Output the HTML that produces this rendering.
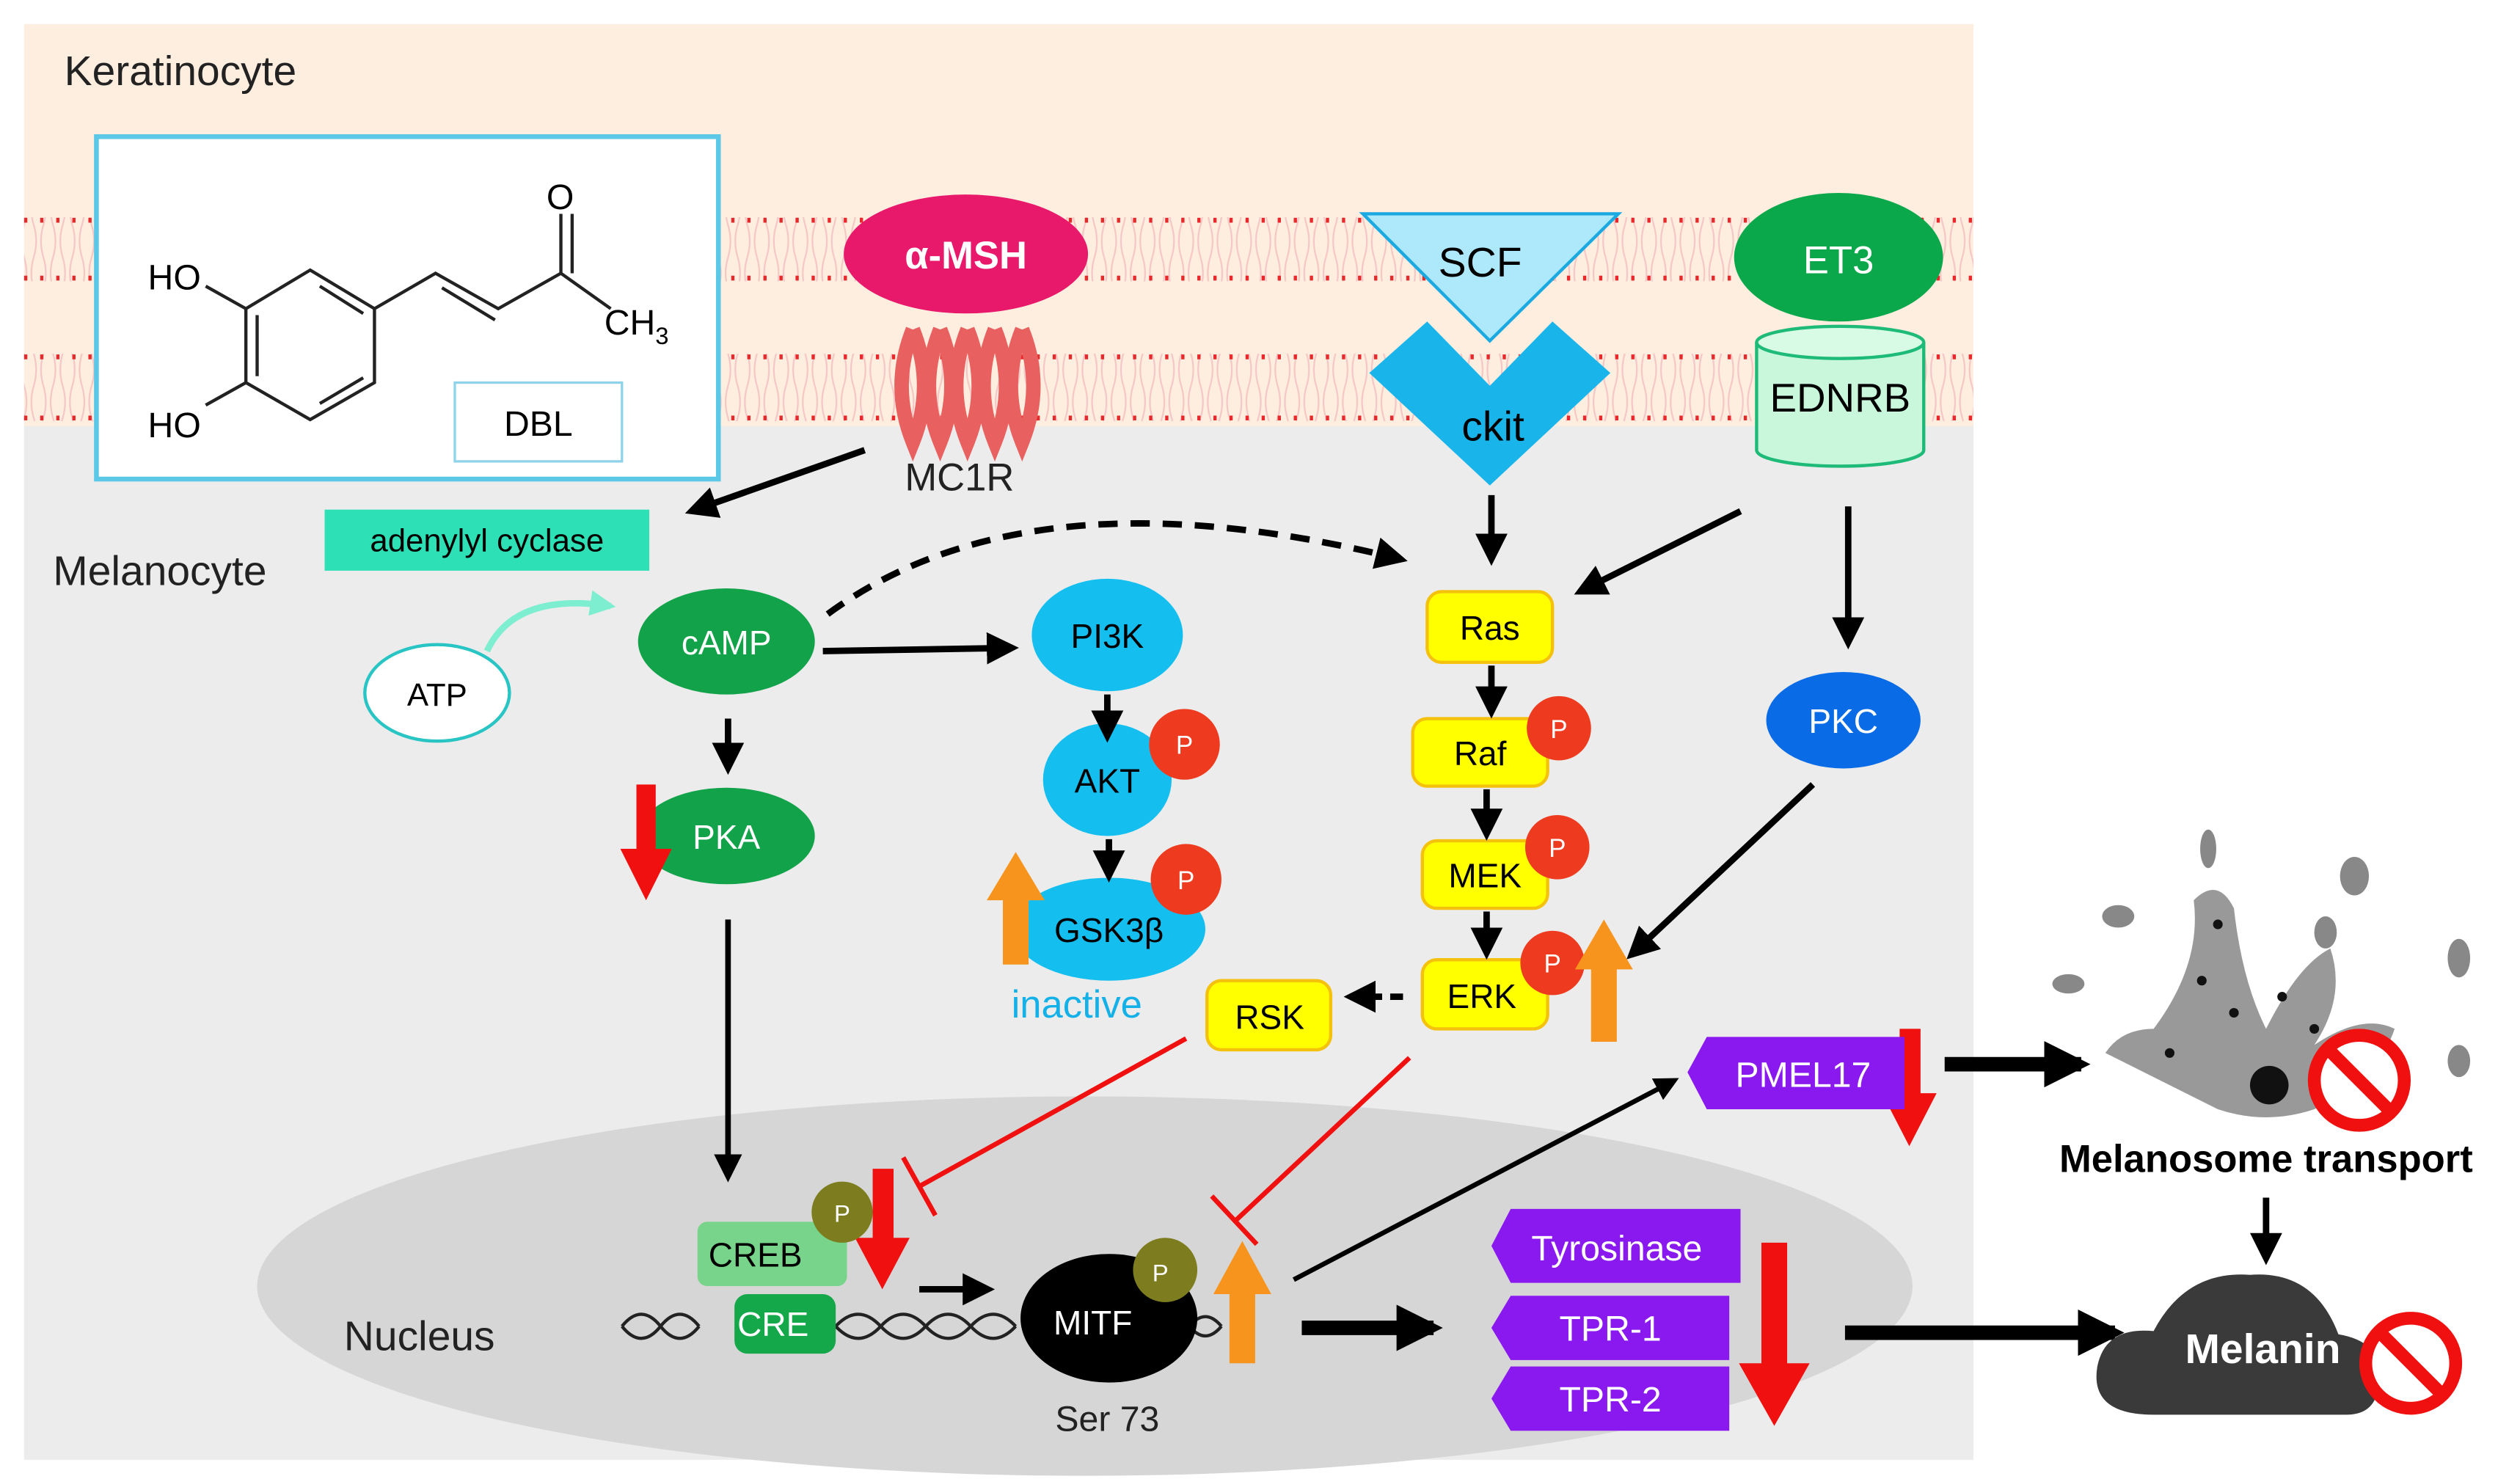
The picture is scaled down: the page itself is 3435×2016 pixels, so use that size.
<!DOCTYPE html>
<html><head><meta charset="utf-8"><style>html,body{margin:0;padding:0;background:#fff}svg{display:block}text{font-family:"Liberation Sans",sans-serif}</style></head><body>
<svg width="3435" height="2016" viewBox="0 0 1568 920" preserveAspectRatio="none" xmlns="http://www.w3.org/2000/svg">
<defs>
<marker id="ah" viewBox="0 0 10 10" refX="8" refY="5" markerWidth="5" markerHeight="5" orient="auto"><path d="M0,0L10,5L0,10z" fill="#000"/></marker>
<marker id="ahb" viewBox="0 0 10 10" refX="8" refY="5" markerWidth="3.2" markerHeight="3.2" orient="auto"><path d="M0,0L10,5L0,10z" fill="#000"/></marker>
<marker id="aht" viewBox="0 0 10 10" refX="8" refY="5" markerWidth="4" markerHeight="4" orient="auto"><path d="M0,0L10,5L0,10z" fill="#7eeed0"/></marker>
<pattern id="lip" width="12" height="40" patternUnits="userSpaceOnUse"><path d="M3,0 q3,10 0,20 q-3,10 0,20 M9,0 q-3,10 0,20 q3,10 0,20" stroke="#f5c6c6" fill="none" stroke-width="1"/></pattern>
</defs>
<rect x="15" y="15" width="1213" height="893" fill="#ececec"/>
<rect x="15" y="15" width="1213" height="250" fill="#fdeee0"/>
<rect x="15" y="135" width="1213" height="40" fill="url(#lip)"/>
<rect x="15" y="220" width="1213" height="42" fill="url(#lip)"/>
<g stroke="#e8282b" stroke-width="3" stroke-dasharray="2 8">
<line x1="15" y1="137" x2="1228" y2="137"/><line x1="15" y1="173" x2="1228" y2="173"/>
<line x1="15" y1="222" x2="1228" y2="222"/><line x1="15" y1="260" x2="1228" y2="260"/></g>
<rect x="15" y="265" width="1213" height="643" fill="#ececec"/>
<ellipse cx="675" cy="800" rx="515" ry="118" fill="#d6d6d6"/>
<rect x="1228" y="0" width="340" height="920" fill="#fff"/>
<text x="40" y="53" font-size="26" fill="#222">Keratinocyte</text>
<text x="33" y="364" font-size="26" fill="#222">Melanocyte</text>
<text x="214" y="840" font-size="26" fill="#222">Nucleus</text>
<rect x="60" y="85" width="387" height="213" fill="#fff" stroke="#5bc8e8" stroke-width="3"/>
<g stroke="#222" stroke-width="2" fill="none">
<path d="M193,168 L233,192 L233,238 L193,261 L153,238 L153,192 Z"/>
<path d="M199,178 L226,195 M226,235 L199,251 M160,234 L160,196"/>
<path d="M233,192 L271,170 L310,192 L349,170 L349,133 M275,179 L308,199 M356,170 L356,133 M349,170 L380,192"/>
<path d="M153,192 L128,178 M153,238 L128,252"/>
</g>
<text x="92" y="180" font-size="22">HO</text><text x="92" y="272" font-size="22">HO</text>
<text x="340" y="130" font-size="22">O</text><text x="376" y="208" font-size="22">CH<tspan font-size="15" dy="6">3</tspan></text>
<rect x="283" y="238" width="104" height="49" fill="#fff" stroke="#8fd3ea" stroke-width="1.5"/>
<text x="335" y="271" font-size="22" text-anchor="middle">DBL</text>
<ellipse cx="601" cy="158" rx="76" ry="37" fill="#e8196b"/>
<text x="601" y="167" font-size="24" fill="#fff" text-anchor="middle" font-weight="bold">α-MSH</text>
<g stroke="#e8605f" stroke-width="9" fill="none"><path d="M568,205 q-14,35 0,70 q14,-35 0,-70 M585,205 q-14,35 0,70 q14,-35 0,-70 M602,205 q-14,35 0,70 q14,-35 0,-70 M619,205 q-14,35 0,70 q14,-35 0,-70 M636,205 q-14,35 0,70 q14,-35 0,-70"/></g>
<text x="597" y="305" font-size="24" text-anchor="middle" fill="#222">MC1R</text>
<polygon points="848,133 1007,133 927,212" fill="#aee8fb" stroke="#1aa9e0" stroke-width="2"/>
<text x="921" y="172" font-size="26" text-anchor="middle">SCF</text>
<polygon points="852,232 888,200 927,240 966,200 1002,232 927,302" fill="#19b5ea"/>
<text x="929" y="274" font-size="26" text-anchor="middle">ckit</text>
<ellipse cx="1144" cy="160" rx="65" ry="40" fill="#0aa84a"/>
<text x="1144" y="170" font-size="24" fill="#fff" text-anchor="middle">ET3</text>
<path d="M1093,213 L1093,280 A52,10 0 0 0 1197,280 L1197,213" fill="#c8f7dc" stroke="#1dbb77" stroke-width="2"/>
<ellipse cx="1145" cy="213" rx="52" ry="10" fill="#d8fbe6" stroke="#1dbb77" stroke-width="2"/>
<text x="1145" y="256" font-size="25" text-anchor="middle">EDNRB</text>
<rect x="202" y="317" width="202" height="38" fill="#2ee0b6"/>
<text x="303" y="343" font-size="20" text-anchor="middle">adenylyl cyclase</text>
<ellipse cx="272" cy="431" rx="45" ry="30" fill="#fff" stroke="#29c4c4" stroke-width="2"/>
<text x="272" y="439" font-size="20" text-anchor="middle">ATP</text>
<path d="M303,405 Q320,368 380,377" stroke="#7eeed0" stroke-width="4" fill="none" marker-end="url(#aht)"/>
<g fill="#12a24a"><ellipse cx="452" cy="399" rx="55" ry="33"/><ellipse cx="452" cy="520" rx="55" ry="30"/></g>
<text x="452" y="407" font-size="21" fill="#fff" text-anchor="middle">cAMP</text>
<text x="452" y="528" font-size="21" fill="#fff" text-anchor="middle">PKA</text>
<g fill="#14bff0"><ellipse cx="689" cy="395" rx="47" ry="35"/><ellipse cx="689" cy="485" rx="40" ry="35"/><ellipse cx="690" cy="578" rx="60" ry="32"/></g>
<text x="689" y="403" font-size="21" text-anchor="middle">PI3K</text>
<text x="689" y="493" font-size="21" text-anchor="middle">AKT</text>
<text x="690" y="586" font-size="21" text-anchor="middle">GSK3β</text>
<text x="670" y="633" font-size="24" fill="#14b0e8" text-anchor="middle">inactive</text>
<g fill="#ffff00" stroke="#f4c20d" stroke-width="2">
<rect x="888" y="368" width="78" height="44" rx="9"/><rect x="879" y="447" width="84" height="42" rx="9"/>
<rect x="885" y="523" width="78" height="42" rx="9"/><rect x="885" y="597" width="78" height="43" rx="9"/>
<rect x="751" y="610" width="77" height="43" rx="9"/></g>
<g font-size="21" text-anchor="middle"><text x="927" y="398">Ras</text><text x="921" y="476">Raf</text><text x="924" y="552">MEK</text><text x="922" y="627">ERK</text><text x="790" y="640">RSK</text></g>
<ellipse cx="1147" cy="448" rx="48" ry="30" fill="#0a6be6"/>
<text x="1147" y="456" font-size="21" fill="#fff" text-anchor="middle">PKC</text>
<g fill="#ee3b1f"><circle cx="737" cy="463" r="22"/><circle cx="738" cy="547" r="22"/><circle cx="970" cy="453" r="20"/><circle cx="969" cy="527" r="20"/><circle cx="966" cy="599" r="20"/></g>
<g font-size="16" fill="#fff" text-anchor="middle"><text x="737" y="469">P</text><text x="738" y="553">P</text><text x="970" y="459">P</text><text x="969" y="533">P</text><text x="966" y="605">P</text></g>
<g stroke="#000" stroke-width="4" fill="none" marker-end="url(#ah)">
<line x1="538" y1="280" x2="430" y2="318"/>
<path d="M515,382 Q640,290 872,348" stroke-dasharray="12 8"/>
<line x1="512" y1="405" x2="630" y2="403"/>
<line x1="453" y1="447" x2="453" y2="478"/>
<line x1="689" y1="432" x2="689" y2="458"/>
<line x1="690" y1="522" x2="690" y2="545"/>
<line x1="928" y1="308" x2="928" y2="348"/>
<line x1="1083" y1="318" x2="983" y2="368"/>
<line x1="1150" y1="315" x2="1150" y2="400"/>
<line x1="928" y1="414" x2="928" y2="443"/>
<line x1="925" y1="491" x2="925" y2="519"/>
<line x1="925" y1="567" x2="925" y2="593"/>
<line x1="1128" y1="488" x2="1015" y2="594"/>
<line x1="873" y1="620" x2="840" y2="620" stroke-dasharray="8 5"/>
<line x1="453" y1="572" x2="453" y2="732" stroke-width="3.5"/>
<line x1="572" y1="802" x2="615" y2="802"/>
<line x1="805" y1="796" x2="1042" y2="672" stroke-width="3"/>
<line x1="1410" y1="745" x2="1410" y2="783"/>
</g>
<g stroke="#000" stroke-width="9" fill="none" marker-end="url(#ahb)">
<line x1="1210" y1="662" x2="1295" y2="662"/>
<line x1="810" y1="826" x2="892" y2="826"/>
<line x1="1148" y1="829" x2="1316" y2="829"/>
</g>
<g stroke="#f01010" stroke-width="3" fill="none">
<line x1="738" y1="646" x2="572" y2="738"/><line x1="562" y1="720" x2="582" y2="756"/>
<line x1="877" y1="658" x2="768" y2="760"/><line x1="754" y1="744" x2="782" y2="774"/>
</g>
<g fill="#f7941d">
<polygon points="624,600 624,560 614,560 632,530 650,560 640,560 640,600"/>
<polygon points="990,648 990,603 980,603 998,572 1016,603 1006,603 1006,648"/>
<polygon points="765,848 765,805 755,805 773,772 791,805 781,805 781,848"/>
</g>
<g fill="#f01010">
<polygon points="396,488 408,488 408,528 418,528 402,560 386,528 396,528"/>
<polygon points="543,727 556,727 556,770 566,770 549,802 532,770 543,770"/>
<polygon points="1182,640 1195,640 1195,680 1205,680 1188,713 1171,680 1182,680"/>
<polygon points="1096,773 1112,773 1112,848 1126,848 1104,887 1082,848 1096,848"/>
</g>
<g fill="#8a19f0">
<polygon points="1062,645 1185,645 1185,690 1062,690 1050,667"/>
<polygon points="940,752 1083,752 1083,798 940,798 928,775"/>
<polygon points="940,806 1076,806 1076,846 940,846 928,826"/>
<polygon points="940,850 1076,850 1076,890 940,890 928,870"/>
</g>
<g font-size="22" fill="#fff" text-anchor="middle"><text x="1122" y="676">PMEL17</text><text x="1006" y="784">Tyrosinase</text><text x="1002" y="834">TPR-1</text><text x="1002" y="878">TPR-2</text></g>
<g stroke="#222" stroke-width="2" fill="none"><path d="M387,825 q12,-15 24,0 q12,15 24,0 M387,825 q12,15 24,0 q12,-15 24,0 M520,825 q14,-15 28,0 q14,15 28,0 q14,-15 28,0 q14,15 28,0 M520,825 q14,15 28,0 q14,-15 28,0 q14,15 28,0 q14,-15 28,0 M740,825 q10,-12 20,0 M740,825 q10,12 20,0"/></g>
<rect x="434" y="760" width="93" height="40" rx="6" fill="#77d48a"/>
<text x="470" y="788" font-size="21" text-anchor="middle">CREB</text>
<rect x="457" y="805" width="63" height="37" rx="8" fill="#14a84a"/>
<text x="481" y="831" font-size="21" fill="#fff" text-anchor="middle">CRE</text>
<circle cx="524" cy="754" r="19" fill="#7d7d1f"/><text x="524" y="760" font-size="15" fill="#fff" text-anchor="middle">P</text>
<ellipse cx="690" cy="820" rx="55" ry="40" fill="#000"/>
<text x="680" y="830" font-size="21" fill="#fff" text-anchor="middle">MITF</text>
<circle cx="725" cy="790" r="20" fill="#7d7d1f"/><text x="722" y="797" font-size="15" fill="#fff" text-anchor="middle">P</text>
<text x="689" y="890" font-size="22" text-anchor="middle" fill="#222">Ser 73</text>
<g fill="#999"><path d="M1340,640 Q1370,600 1365,560 Q1380,545 1390,565 Q1395,610 1410,640 Q1430,600 1450,590 Q1460,620 1440,650 Q1470,630 1490,640 Q1480,670 1440,690 Q1410,700 1380,690 Q1340,670 1310,655 Q1320,640 1340,640 Z"/></g>
<circle cx="1412" cy="675" r="12" fill="#111"/>
<g fill="#111"><circle cx="1370" cy="610" r="3"/><circle cx="1390" cy="630" r="3"/><circle cx="1350" cy="655" r="3"/><circle cx="1440" cy="640" r="3"/><circle cx="1460" cy="660" r="3"/><circle cx="1380" cy="575" r="3"/><circle cx="1420" cy="620" r="3"/></g>
<g fill="#888"><ellipse cx="1374" cy="528" rx="5" ry="12"/><ellipse cx="1318" cy="570" rx="10" ry="7"/><ellipse cx="1465" cy="545" rx="9" ry="12"/><ellipse cx="1447" cy="580" rx="7" ry="10"/><ellipse cx="1530" cy="596" rx="7" ry="12"/><ellipse cx="1287" cy="612" rx="10" ry="6"/><ellipse cx="1530" cy="660" rx="7" ry="10"/></g>
<text x="1410" y="729" font-size="24" font-weight="bold" text-anchor="middle">Melanosome transport</text>
<path d="M1340,880 Q1300,880 1305,850 Q1310,825 1340,828 Q1360,790 1400,793 Q1440,790 1455,830 Q1485,835 1480,862 Q1478,880 1460,880 Z" fill="#3a3a3a"/>
<text x="1408" y="848" font-size="26" font-weight="bold" fill="#fff" text-anchor="middle">Melanin</text>
<g stroke="#f01010" stroke-width="8" fill="#fff"><circle cx="1468" cy="672" r="28"/><line x1="1449" y1="653" x2="1487" y2="691"/><circle cx="1500" cy="848" r="28"/><line x1="1481" y1="829" x2="1519" y2="867"/></g>
</svg>
</body></html>
